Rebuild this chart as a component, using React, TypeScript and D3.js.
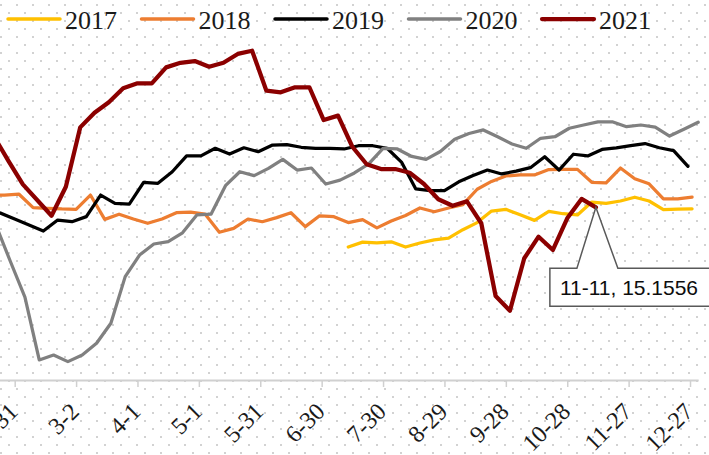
import { useEffect, useRef } from 'react'
import * as d3 from 'd3'

// weekly series, dates shown on a common (non-leap) year axis
const years = ['2017', '2018', '2019', '2020', '2021']
const colors = ['#FFC000', '#ED7D31', '#000000', '#808080', '#8B0000']
const startDates = ['7-13', '1-19', '1-17', '1-22', '1-21']

const values2017 = [
  12.82, 13.11, 13.06, 13.13, 12.82, 13.06, 13.24, 13.34, 13.84, 14.26, 14.94, 15.04, 14.72,
  14.39, 14.92, 14.78, 14.71, 15.47, 15.39, 15.53, 15.75, 15.53, 15.02, 15.05, 15.07,
]
const values2018 = [
  15.85, 15.88, 15.94, 15.14, 15.1, 15.06, 15.04, 15.88, 14.45, 14.75, 14.47, 14.22, 14.47,
  14.84, 14.88, 14.76, 13.69, 13.92, 14.47, 14.31, 14.55, 14.84, 14.02, 14.66, 14.61, 14.26,
  14.43, 13.95, 14.35, 14.68, 15.12, 14.9, 15.12, 15.32, 16.22, 16.68, 17.0, 17.06, 17.06,
  17.38, 17.39, 17.39, 16.63, 16.59, 17.47, 16.84, 16.54, 15.66, 15.65, 15.76,
]
const values2019 = [
  15.18, 14.82, 14.47, 14.12, 13.76, 14.41, 14.31, 14.61, 15.88, 15.39, 15.35, 16.63, 16.57,
  17.25, 18.18, 18.18, 18.63, 18.29, 18.66, 18.43, 18.82, 18.85, 18.69, 18.63, 18.63, 18.59,
  18.78, 18.78, 18.63, 17.82, 16.24, 16.14, 16.14, 16.66, 17.03, 17.35, 17.12, 17.29, 17.49,
  18.13, 17.35, 18.28, 18.18, 18.56, 18.66, 18.79, 18.91, 18.66, 18.49, 17.57,
]
const values2020 = [
  14.06, 11.94, 9.88, 6.18, 6.47, 6.08, 6.47, 7.16, 8.34, 11.08, 12.35, 13.0, 13.14, 13.66,
  14.71, 14.76, 16.43, 17.25, 17.02, 17.45, 17.98, 17.35, 17.47, 16.53, 16.76, 17.18, 17.71,
  18.62, 18.59, 18.15, 17.98, 18.44, 19.16, 19.5, 19.71, 19.31, 18.88, 18.63, 19.22, 19.31,
  19.81, 20.0, 20.18, 20.19, 19.9, 20.0, 19.88, 19.35, 19.75, 20.16,
]
const values2021 = [
  19.29, 17.88, 16.51, null, 14.66, 16.37, 19.86, 20.72, 21.34, 22.16, 22.45, 22.45, 23.39,
  23.66, 23.76, 23.43, 23.66, 24.18, 24.37, 22.02, 21.92, 22.22, 22.22, 20.29, 20.55, 18.72,
  17.69, 17.41, 17.41, 17.19, 16.53, 15.63, 15.25, 15.51, 14.22, 9.94, 9.08, 12.16, 13.43,
  12.65, 14.51, 15.65, 15.1556,
]
const seriesValues = [values2017, values2018, values2019, values2020, values2021]

const tickLabels = ['1-31', '3-2', '4-1', '5-1', '5-31', '6-30', '7-30', '8-29', '9-28', '10-28', '11-27', '12-27']
const calloutDate = '11-11'
const calloutValue = 15.1556

const md = (s: string) => {
  const [m, d] = s.split('-').map(Number)
  return new Date(2021, m - 1, d)
}

export default function App() {
  const svgRef = useRef<SVGSVGElement>(null)

  useEffect(() => {
    if (!svgRef.current) return
    document.body.style.margin = '0'

    const width = 709
    const height = 455

    d3.select(svgRef.current).selectAll('*').remove()
    const svg = d3.select(svgRef.current).attr('width', width).attr('height', height)

    // dotted background pattern
    const pat = svg
      .append('defs')
      .append('pattern')
      .attr('id', 'dots')
      .attr('patternUnits', 'userSpaceOnUse')
      .attr('width', 16)
      .attr('height', 16)
    pat.append('rect').attr('x', 0).attr('y', 4).attr('width', 2).attr('height', 2).attr('fill', '#d2d2d2')
    pat.append('rect').attr('x', 8).attr('y', 12).attr('width', 2).attr('height', 2).attr('fill', '#d2d2d2')

    svg.append('rect').attr('width', width).attr('height', height).attr('fill', '#fff')
    svg.append('rect').attr('width', width).attr('height', height).attr('fill', 'url(#dots)')

    const x = d3
      .scaleTime()
      .domain([new Date(2021, 0, 1), new Date(2021, 11, 31)])
      .range([-46.7, 698.2])
    const y = d3.scaleLinear().domain([5, 25]).range([380, 40])

    // x axis
    const axis = d3
      .axisBottom(x)
      .tickValues(tickLabels.map(md))
      .tickFormat((_, i) => tickLabels[i])
      .tickSizeInner(7)
      .tickSizeOuter(0)

    const ax = svg.append('g').attr('transform', 'translate(0,380)').call(axis)
    ax.select('.domain').attr('stroke', '#d0d0d0').attr('stroke-width', 2)
    ax.selectAll('.tick line').attr('stroke', '#d0d0d0').attr('stroke-width', 1.5)
    ax.selectAll('.tick text')
      .attr('y', 0)
      .attr('dy', 0)
      .attr('transform', 'translate(4,33) rotate(-45)')
      .attr('text-anchor', 'end')
      .attr('fill', '#1a1a1a')
      .style('font-family', '"Liberation Serif", serif')
      .style('font-size', '24px')

    // lines
    const line = d3
      .line<{ date: Date; value: number }>()
      .x(d => x(d.date))
      .y(d => y(d.value))

    seriesValues.forEach((vals, i) => {
      const start = md(startDates[i])
      const pts = vals
        .map((v, k) => ({ date: d3.timeDay.offset(start, 7 * k), value: v }))
        .filter(d => d.value != null) as { date: Date; value: number }[]
      svg
        .append('path')
        .attr('d', line(pts))
        .attr('fill', 'none')
        .attr('stroke', colors[i])
        .attr('stroke-width', i === 4 ? 4.25 : 3.25)
        .attr('stroke-linejoin', 'round')
        .attr('stroke-linecap', 'round')
    })

    // callout for last 2021 point
    const px = x(md(calloutDate))
    const py = y(calloutValue)
    const top = py + 61
    const bottom = py + 99
    const left = px - 46
    const right = px + 118
    svg
      .append('path')
      .attr(
        'd',
        `M${left},${top}L${px - 19},${top}L${px},${py}L${px + 22},${top}L${right},${top}L${right},${bottom}L${left},${bottom}Z`
      )
      .attr('fill', '#fff')
      .attr('stroke', '#595959')
      .attr('stroke-width', 1.5)
    svg
      .append('text')
      .attr('x', left + 10)
      .attr('y', top + 27)
      .attr('fill', '#0d0d0d')
      .style('font-family', '"Liberation Sans", Arial, sans-serif')
      .style('font-size', '21px')
      .text(`${calloutDate}, ${calloutValue}`)

    // legend
    const legend = svg.append('g')
    years.forEach((yr, i) => {
      const x0 = 8 + i * 133.5
      legend
        .append('line')
        .attr('x1', x0)
        .attr('x2', x0 + 52)
        .attr('y1', 19)
        .attr('y2', 19)
        .attr('stroke', colors[i])
        .attr('stroke-width', i === 4 ? 4.25 : 3.5)
        .attr('stroke-linecap', 'round')
      legend
        .append('text')
        .attr('x', x0 + 57)
        .attr('y', 29)
        .attr('fill', '#1a1a1a')
        .style('font-family', '"Liberation Serif", serif')
        .style('font-size', '26px')
        .text(yr)
    })
  }, [])

  return <svg ref={svgRef} style={{ display: 'block' }}></svg>
}
